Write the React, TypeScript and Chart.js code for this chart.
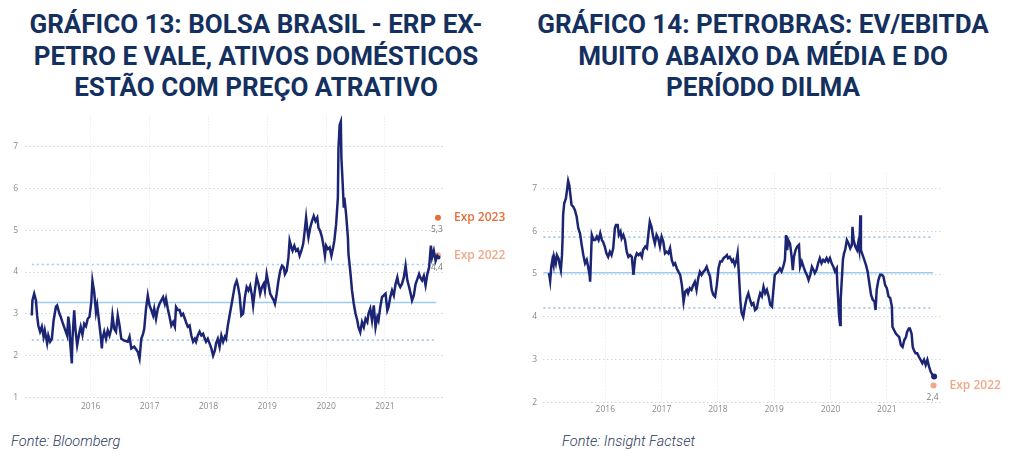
import React, { useEffect, useRef } from 'react';
import { Chart, registerables } from 'chart.js';
Chart.register(...registerables);

// ---------- Gráfico 13: Bolsa Brasil ERP ----------
const bolsaYears = [
  2015.00, 2015.01, 2015.04, 2015.07, 2015.09, 2015.11, 2015.14, 2015.17, 2015.20, 2015.22, 2015.26, 2015.28, 2015.31, 2015.34, 2015.37, 2015.41, 2015.43, 2015.47, 2015.49, 2015.52,
  2015.56, 2015.60, 2015.62, 2015.64, 2015.65, 2015.68, 2015.69, 2015.72, 2015.74, 2015.77, 2015.81, 2015.83, 2015.86, 2015.89, 2015.92, 2015.95, 2015.98, 2016.01, 2016.03, 2016.06,
  2016.09, 2016.11, 2016.13, 2016.17, 2016.19, 2016.20, 2016.23, 2016.26, 2016.29, 2016.32, 2016.35, 2016.37, 2016.40, 2016.43, 2016.46, 2016.49, 2016.52, 2016.57, 2016.63, 2016.66,
  2016.69, 2016.74, 2016.80, 2016.83, 2016.86, 2016.89, 2016.91, 2016.94, 2016.97, 2017.00, 2017.03, 2017.06, 2017.08, 2017.11, 2017.14, 2017.17, 2017.20, 2017.23, 2017.26, 2017.28,
  2017.31, 2017.34, 2017.37, 2017.40, 2017.43, 2017.45, 2017.48, 2017.51, 2017.54, 2017.57, 2017.60, 2017.62, 2017.65, 2017.68, 2017.71, 2017.74, 2017.77, 2017.79, 2017.82, 2017.85,
  2017.88, 2017.91, 2017.94, 2017.96, 2017.99, 2018.02, 2018.05, 2018.08, 2018.11, 2018.13, 2018.16, 2018.19, 2018.22, 2018.25, 2018.28, 2018.30, 2018.33, 2018.36, 2018.39, 2018.42,
  2018.45, 2018.48, 2018.50, 2018.53, 2018.56, 2018.59, 2018.62, 2018.65, 2018.68, 2018.71, 2018.74, 2018.76, 2018.79, 2018.82, 2018.85, 2018.88, 2018.91, 2018.94, 2018.96, 2018.99,
  2019.02, 2019.05, 2019.08, 2019.11, 2019.13, 2019.16, 2019.19, 2019.22, 2019.25, 2019.28, 2019.30, 2019.33, 2019.36, 2019.38, 2019.41, 2019.43, 2019.46, 2019.49, 2019.52, 2019.55,
  2019.58, 2019.61, 2019.63, 2019.66, 2019.68, 2019.70, 2019.73, 2019.76, 2019.79, 2019.82, 2019.85, 2019.87, 2019.90, 2019.93, 2019.96, 2019.98, 2020.00, 2020.03, 2020.06, 2020.09,
  2020.12, 2020.14, 2020.17, 2020.20, 2020.21, 2020.23, 2020.25, 2020.26, 2020.28, 2020.30, 2020.31, 2020.34, 2020.37, 2020.38, 2020.41, 2020.44, 2020.47, 2020.50, 2020.53, 2020.55,
  2020.58, 2020.61, 2020.64, 2020.67, 2020.70, 2020.72, 2020.75, 2020.78, 2020.81, 2020.84, 2020.87, 2020.89, 2020.92, 2020.95, 2020.98, 2021.01, 2021.04, 2021.06, 2021.09, 2021.12,
  2021.15, 2021.18, 2021.21, 2021.23, 2021.26, 2021.29, 2021.32, 2021.35, 2021.38, 2021.41, 2021.43, 2021.46, 2021.49, 2021.52, 2021.55, 2021.58, 2021.60, 2021.63, 2021.66, 2021.69,
  2021.72, 2021.75, 2021.78, 2021.80, 2021.83, 2021.86, 2021.89, 2021.91,
];
const bolsaValues = [
  2.96, 3.32, 3.48, 3.32, 2.96, 2.72, 2.57, 2.69, 2.45, 2.60, 2.29, 2.48, 2.33, 2.40, 2.84, 3.17, 3.20, 3.00, 2.93, 2.80,
  2.64, 2.48, 2.93, 2.70, 2.33, 1.81, 2.40, 3.08, 2.64, 2.25, 2.57, 2.69, 2.50, 2.76, 2.70, 2.88, 2.93, 3.28, 3.79, 3.52,
  3.04, 3.20, 2.96, 2.48, 2.17, 2.40, 2.57, 2.40, 2.60, 2.48, 2.64, 2.96, 2.64, 2.57, 2.96, 2.72, 2.40, 2.36, 2.33, 2.45,
  2.17, 2.21, 2.09, 1.93, 2.40, 2.52, 2.64, 3.12, 3.44, 3.20, 3.09, 2.96, 3.12, 2.88, 3.12, 3.24, 3.32, 3.40, 3.24, 3.36,
  3.12, 2.93, 2.72, 2.80, 2.69, 3.16, 3.09, 3.09, 2.96, 3.00, 2.88, 2.80, 2.69, 2.72, 2.48, 2.33, 2.40, 2.33, 2.48, 2.57,
  2.48, 2.52, 2.40, 2.33, 2.40, 2.29, 2.17, 2.00, 2.12, 2.29, 2.40, 2.21, 2.48, 2.33, 2.45, 2.40, 2.72, 2.96, 3.20, 3.44,
  3.68, 3.79, 3.68, 3.44, 2.96, 3.00, 3.40, 3.64, 3.56, 3.67, 3.44, 3.20, 3.56, 3.87, 3.72, 3.48, 3.64, 3.72, 3.56, 3.95,
  3.72, 3.48, 3.40, 3.32, 3.24, 3.48, 3.79, 4.03, 4.15, 4.11, 3.95, 4.03, 4.35, 4.75, 4.59, 4.51, 4.63, 4.51, 4.55, 4.39,
  4.51, 4.67, 4.90, 5.30, 5.03, 4.83, 5.06, 5.22, 5.34, 5.22, 5.30, 5.06, 4.98, 4.83, 4.59, 4.39, 4.63, 4.55, 4.59, 4.39,
  4.59, 4.75, 5.14, 5.78, 6.97, 7.52, 7.60, 6.73, 6.17, 5.54, 5.78, 5.38, 4.83, 4.43, 4.03, 3.56, 3.24, 3.00, 2.84, 2.68,
  2.56, 2.80, 2.68, 2.88, 2.80, 3.00, 3.12, 2.84, 3.20, 2.68, 2.92, 2.84, 3.16, 3.40, 3.44, 3.48, 3.08, 3.16, 3.40, 3.56,
  3.44, 3.71, 3.87, 3.72, 3.64, 3.72, 3.87, 4.15, 3.80, 3.64, 3.52, 3.32, 3.44, 3.71, 3.83, 3.95, 3.87, 3.80, 3.91, 3.68,
  3.95, 4.11, 4.63, 4.35, 4.51, 4.27, 4.39, 4.35,
];
const bolsaMean = 3.27;
const bolsaUpper = 4.18;
const bolsaLower = 2.37;
const bolsaRefStart = 2015.0;
const bolsaRefEnd = 2021.87;
const bolsaExpYear = 2021.9;
const bolsaExpNames = ['Exp 2023', 'Exp 2022'];
const bolsaExpValues = [5.3, 4.4];
const bolsaExpTexts = ['5,3', '4,4'];
const bolsaYTicks = [1, 2, 3, 4, 5, 6, 7];

// ---------- Gráfico 14: Petrobras EV/EBITDA ----------
const petroYears = [
  2015.00, 2015.02, 2015.04, 2015.06, 2015.08, 2015.09, 2015.12, 2015.14, 2015.17, 2015.19, 2015.21, 2015.23, 2015.24, 2015.25, 2015.27, 2015.30, 2015.32, 2015.34, 2015.36, 2015.38,
  2015.40, 2015.43, 2015.46, 2015.49, 2015.52, 2015.55, 2015.58, 2015.61, 2015.64, 2015.67, 2015.70, 2015.72, 2015.73, 2015.76, 2015.79, 2015.82, 2015.85, 2015.88, 2015.91, 2015.94,
  2015.96, 2015.99, 2016.02, 2016.05, 2016.08, 2016.11, 2016.14, 2016.17, 2016.19, 2016.22, 2016.24, 2016.27, 2016.29, 2016.32, 2016.35, 2016.38, 2016.41, 2016.44, 2016.47, 2016.50,
  2016.53, 2016.56, 2016.59, 2016.62, 2016.65, 2016.67, 2016.71, 2016.74, 2016.76, 2016.79, 2016.82, 2016.85, 2016.88, 2016.91, 2016.94, 2016.97, 2017.00, 2017.03, 2017.06, 2017.09,
  2017.12, 2017.15, 2017.18, 2017.21, 2017.24, 2017.27, 2017.30, 2017.33, 2017.36, 2017.39, 2017.42, 2017.45, 2017.47, 2017.50, 2017.53, 2017.56, 2017.59, 2017.62, 2017.65, 2017.68,
  2017.71, 2017.74, 2017.77, 2017.80, 2017.83, 2017.86, 2017.89, 2017.92, 2017.95, 2017.98, 2018.01, 2018.04, 2018.07, 2018.10, 2018.13, 2018.16, 2018.18, 2018.21, 2018.25, 2018.27,
  2018.30, 2018.33, 2018.35, 2018.37, 2018.40, 2018.42, 2018.45, 2018.48, 2018.51, 2018.54, 2018.57, 2018.60, 2018.63, 2018.66, 2018.69, 2018.72, 2018.75, 2018.78, 2018.81, 2018.84,
  2018.87, 2018.90, 2018.93, 2018.96, 2018.98, 2019.01, 2019.04, 2019.07, 2019.10, 2019.13, 2019.16, 2019.19, 2019.21, 2019.23, 2019.25, 2019.28, 2019.31, 2019.33, 2019.35, 2019.38,
  2019.41, 2019.44, 2019.46, 2019.49, 2019.52, 2019.55, 2019.58, 2019.61, 2019.64, 2019.67, 2019.70, 2019.72, 2019.75, 2019.78, 2019.81, 2019.84, 2019.87, 2019.90, 2019.93, 2019.96,
  2019.99, 2020.02, 2020.05, 2020.08, 2020.11, 2020.12, 2020.14, 2020.15, 2020.17, 2020.18, 2020.20, 2020.22, 2020.24, 2020.26, 2020.29, 2020.32, 2020.35, 2020.38, 2020.39, 2020.41,
  2020.44, 2020.47, 2020.49, 2020.51, 2020.53, 2020.54, 2020.56, 2020.60, 2020.63, 2020.66, 2020.69, 2020.72, 2020.75, 2020.78, 2020.80, 2020.82, 2020.85, 2020.88, 2020.91, 2020.94,
  2020.97, 2021.00, 2021.03, 2021.06, 2021.09, 2021.10, 2021.13, 2021.16, 2021.19, 2021.22, 2021.25, 2021.28, 2021.31, 2021.34, 2021.36, 2021.39, 2021.41, 2021.44, 2021.46, 2021.48,
  2021.51, 2021.54, 2021.57, 2021.60, 2021.63, 2021.66, 2021.69, 2021.72, 2021.75, 2021.78, 2021.81, 2021.84,
];
const petroValues = [
  5.02, 4.84, 5.17, 5.33, 5.21, 5.40, 5.25, 5.44, 5.36, 5.21, 5.09, 5.44, 5.79, 6.37, 6.65, 6.76, 6.96, 7.17, 7.07, 6.84,
  6.61, 6.57, 6.49, 6.34, 6.07, 5.95, 5.68, 5.44, 5.25, 5.33, 5.13, 4.98, 4.82, 5.91, 5.79, 5.79, 5.87, 5.79, 5.95, 5.79,
  5.75, 5.64, 5.48, 5.40, 5.52, 5.44, 5.60, 6.07, 6.14, 6.14, 5.91, 5.99, 5.83, 5.91, 5.79, 5.52, 5.40, 5.44, 5.40, 4.98,
  5.37, 5.48, 5.44, 5.48, 5.40, 5.56, 5.64, 5.60, 5.87, 6.22, 6.10, 5.87, 5.71, 5.91, 5.83, 5.64, 5.87, 5.75, 5.48, 5.52,
  5.48, 5.60, 5.33, 5.21, 5.25, 5.13, 5.05, 4.98, 4.74, 4.35, 4.59, 4.63, 4.55, 4.67, 4.63, 4.74, 4.82, 4.63, 4.90, 5.05,
  4.98, 5.05, 5.09, 5.17, 5.05, 4.94, 4.63, 4.51, 4.47, 4.74, 5.13, 5.29, 5.29, 5.37, 5.40, 5.44, 5.37, 5.40, 5.29, 5.33,
  5.21, 5.33, 5.48, 5.05, 4.35, 4.10, 4.00, 4.25, 4.44, 4.55, 4.40, 4.28, 4.32, 4.16, 4.20, 4.40, 4.55, 4.48, 4.70, 4.55,
  4.63, 4.48, 4.28, 4.24, 4.55, 4.98, 5.02, 5.06, 5.13, 5.06, 5.17, 5.33, 5.91, 5.56, 5.79, 5.71, 5.40, 5.09, 5.40, 5.56,
  5.64, 5.68, 5.17, 5.29, 5.17, 5.06, 4.98, 4.86, 4.98, 5.17, 5.09, 5.02, 5.09, 5.25, 5.37, 5.25, 5.33, 5.29, 5.37, 5.29,
  5.37, 5.25, 5.17, 5.06, 5.13, 4.78, 4.32, 4.04, 3.81, 4.40, 4.86, 5.33, 5.48, 5.56, 5.79, 5.71, 5.60, 5.68, 6.10, 5.79,
  5.64, 5.56, 5.71, 5.56, 6.37, 5.56, 5.48, 5.33, 5.21, 5.05, 4.78, 4.51, 4.40, 4.36, 4.16, 4.63, 4.86, 4.98, 4.98, 4.94,
  4.74, 4.67, 4.48, 4.44, 4.24, 3.77, 3.69, 3.61, 3.57, 3.53, 3.34, 3.30, 3.46, 3.53, 3.65, 3.73, 3.73, 3.61, 3.30, 3.23,
  3.15, 3.15, 3.07, 3.00, 2.92, 3.00, 2.88, 3.00, 2.84, 2.72, 2.65, 2.61,
];
const petroMean = 5.03;
const petroUpper = 5.86;
const petroLower = 4.21;
const petroRefStart = 2014.9;
const petroRefEnd = 2021.82;
const petroExpYear = 2021.83;
const petroExpNames = ['Exp 2022'];
const petroExpValues = [2.4];
const petroExpTexts = ['2,4'];
const petroYTicks = [2, 3, 4, 5, 6, 7];

const xTickYears = [2016, 2017, 2018, 2019, 2020, 2021];
const expColors = ['#e2703c', '#f2a888'];
const petroExpColors = ['#f2a888'];

const NAVY = '#1c2574';
const REF = '#9dcbf1';

type Cfg = {
  years: number[]; values: number[];
  mean: number; upper: number; lower: number; refStart: number; refEnd: number;
  expYear: number; expNames: string[]; expValues: number[]; expTexts: string[]; expColors: string[];
  yTicks: number[];
  xMin: number; xMax: number; yMin: number; yMax: number;
  yAxisWidth: number; xAxisHeight: number; yPad: number; xPad: number; endDot: number;
  padding: { left: number; right: number; top: number; bottom: number };
};

function buildChart(canvas: HTMLCanvasElement, c: Cfg) {
  const main = c.years.map((x, i) => ({ x, y: c.values[i] }));
  const refLine = (v: number) => [{ x: c.refStart, y: v }, { x: c.refEnd, y: v }];
  const last = main.length - 1;
  const labelPlugin = {
    id: 'expLabels',
    afterDatasetsDraw(chart: any) {
      const { ctx, scales } = chart;
      const xs = scales.x, ys = scales.y;
      c.expNames.forEach((name, i) => {
        const px = xs.getPixelForValue(c.expYear);
        const py = ys.getPixelForValue(c.expValues[i]);
        ctx.save();
        ctx.font = '600 12px "Open Sans"';
        ctx.fillStyle = c.expColors[i];
        ctx.textAlign = 'left';
        ctx.textBaseline = 'middle';
        ctx.fillText(name, px + 16, py);
        ctx.font = '8.5px "Open Sans"';
        ctx.fillStyle = '#7a7a7a';
        ctx.textAlign = 'center';
        ctx.fillText(c.expTexts[i], px - 1, py + 12);
        ctx.restore();
      });
    },
  };
  return new Chart(canvas, {
    type: 'line',
    data: {
      datasets: [
        {
          data: main, borderColor: NAVY, borderWidth: 2.5, backgroundColor: NAVY,
          pointRadius: (ctx: any) => (ctx.dataIndex === last ? c.endDot : 0), pointHoverRadius: 0,
          pointBorderWidth: 0, tension: 0, fill: false,
        },
        ...c.expValues.map((v, i) => ({
          data: [{ x: c.expYear, y: v }], showLine: false, pointRadius: 3,
          backgroundColor: c.expColors[i], borderColor: c.expColors[i], borderWidth: 0,
        })),
        { data: refLine(c.mean), borderColor: REF, borderWidth: 1.6, pointRadius: 0, tension: 0 },
        { data: refLine(c.upper), borderColor: REF, borderWidth: 1.6, borderDash: [2, 3], pointRadius: 0, tension: 0 },
        { data: refLine(c.lower), borderColor: REF, borderWidth: 1.6, borderDash: [2, 3], pointRadius: 0, tension: 0 },
      ] as any,
    },
    options: {
      animation: false,
      responsive: false,
      maintainAspectRatio: false,
      layout: { padding: c.padding },
      plugins: { legend: { display: false }, tooltip: { enabled: false }, title: { display: false } },
      scales: {
        x: {
          type: 'linear', min: c.xMin, max: c.xMax,
          afterBuildTicks: (s: any) => { s.ticks = xTickYears.map((v) => ({ value: v })); },
          afterFit: (s: any) => { s.height = c.xAxisHeight; },
          grid: { color: '#e6e6e6', lineWidth: 1, drawTicks: false },
          border: { display: false, dash: [1, 2] },
          ticks: {
            callback: (v: any) => String(v), color: '#8a8a8a', font: { family: 'Open Sans', size: 8.5 },
            padding: c.xPad, maxRotation: 0, autoSkip: false,
          },
        },
        y: {
          type: 'linear', min: c.yMin, max: c.yMax,
          afterBuildTicks: (s: any) => { s.ticks = c.yTicks.map((v) => ({ value: v })); },
          afterFit: (s: any) => { s.width = c.yAxisWidth; },
          grid: { color: '#d4d4d4', lineWidth: 1, drawTicks: false },
          border: { display: false, dash: [1.5, 2.5] },
          ticks: { color: '#8a8a8a', font: { family: 'Open Sans', size: 8.5 }, padding: c.yPad },
        },
      },
    } as any,
    plugins: [labelPlugin],
  });
}

function ChartCanvas({ cfg, left, top, width, height }: { cfg: Cfg; left: number; top: number; width: number; height: number }) {
  const ref = useRef<HTMLCanvasElement>(null);
  useEffect(() => {
    const ch = buildChart(ref.current!, cfg);
    return () => ch.destroy();
  }, []);
  return <canvas ref={ref} width={width} height={height} style={{ position: 'absolute', left, top, width, height }} />;
}

const titleStyle: React.CSSProperties = {
  position: 'absolute', top: 9, width: 512, textAlign: 'center',
  fontFamily: 'Roboto', fontWeight: 700, fontSize: 26, lineHeight: '31.7px', color: '#14305f',
};
const sourceStyle: React.CSSProperties = {
  position: 'absolute', top: 434, fontFamily: 'Roboto', fontStyle: 'italic', fontWeight: 300,
  fontSize: 14.5, lineHeight: '16px', color: '#2c3a5e', whiteSpace: 'nowrap',
};

export default function App() {
  const bolsaCfg: Cfg = {
    years: bolsaYears, values: bolsaValues, mean: bolsaMean, upper: bolsaUpper, lower: bolsaLower,
    refStart: bolsaRefStart, refEnd: bolsaRefEnd, expYear: bolsaExpYear, expNames: bolsaExpNames,
    expValues: bolsaExpValues, expTexts: bolsaExpTexts, expColors: expColors, yTicks: bolsaYTicks,
    xMin: 2014.884, xMax: 2022.02, yMin: 1, yMax: 7.75,
    yAxisWidth: 25, xAxisHeight: 32.7, yPad: 7, xPad: 4, endDot: 2,
    padding: { left: 0, right: 67, top: 15.4, bottom: 0 },
  };
  const petroCfg: Cfg = {
    years: petroYears, values: petroValues, mean: petroMean, upper: petroUpper, lower: petroLower,
    refStart: petroRefStart, refEnd: petroRefEnd, expYear: petroExpYear, expNames: petroExpNames,
    expValues: petroExpValues, expTexts: petroExpTexts, expColors: petroExpColors, yTicks: petroYTicks,
    xMin: 2014.893, xMax: 2021.98, yMin: 2, yMax: 7.35,
    yAxisWidth: 31, xAxisHeight: 27.3, yPad: 6, xPad: 1.5, endDot: 3,
    padding: { left: 0, right: 82, top: 73.2, bottom: 0 },
  };
  return (
    <div style={{ position: 'absolute', left: 0, top: 0, width: 1024, height: 462, background: '#fff', overflow: 'hidden' }}>
      <div style={{ ...titleStyle, left: 0 }}>
        GRÁFICO 13: BOLSA BRASIL - ERP EX-<br />PETRO E VALE, ATIVOS DOMÉSTICOS<br />ESTÃO COM PREÇO ATRATIVO
      </div>
      <div style={{ ...titleStyle, left: 507 }}>
        GRÁFICO 14: PETROBRAS: EV/EBITDA<br />MUITO ABAIXO DA MÉDIA E DO<br />PERÍODO DILMA
      </div>
      <ChartCanvas cfg={bolsaCfg} left={0} top={100} width={512} height={330} />
      <ChartCanvas cfg={petroCfg} left={512} top={100} width={512} height={330} />
      <div style={{ ...sourceStyle, left: 11 }}>Fonte: Bloomberg</div>
      <div style={{ ...sourceStyle, left: 562 }}>Fonte: Insight Factset</div>
    </div>
  );
}
